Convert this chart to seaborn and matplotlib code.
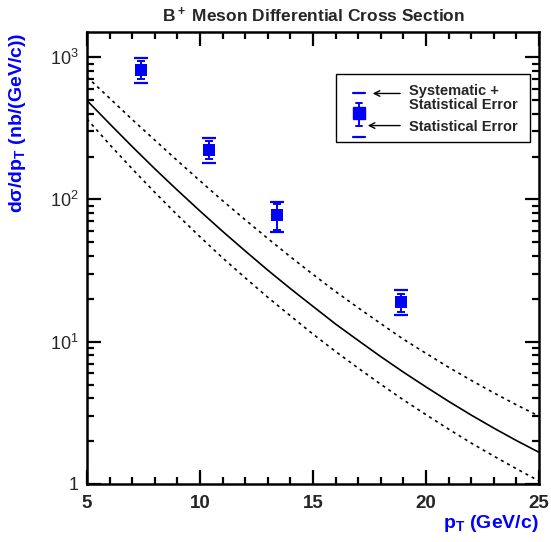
import numpy as np
import pandas as pd
import matplotlib
matplotlib.use("Agg")
import matplotlib.pyplot as plt
from matplotlib.patches import Rectangle
import seaborn as sns

# ---------------- data ----------------
pt_points = [7.4, 10.4, 13.4, 18.9]
xsec = [817, 223, 77.6, 18.9]
stat_hi = [934, 258, 92.7, 21.8]
stat_lo = [699, 191, 61.3, 16.2]
syst_hi = [987, 268, 95.7, 22.9]
syst_lo = [659, 179, 58.7, 15.3]

pt_curve = [5, 6, 7, 8, 9, 10, 11, 12, 13, 14, 15, 16, 17, 18, 19, 20, 21, 22, 23, 24, 25]
theory_central = [495, 340, 235, 164, 116, 82.8, 59.6, 43.4, 31.8, 23.6, 17.7,
                  13.3, 10.2, 7.85, 6.11, 4.81, 3.81, 3.05, 2.47, 2.02, 1.67]
theory_upper = [724, 514, 364, 261, 187, 135, 97.9, 71.9, 53.1, 39.5, 29.7,
                22.5, 17.3, 13.4, 10.4, 8.28, 6.61, 5.35, 4.37, 3.60, 3.0]
theory_lower = [367, 243, 164, 112, 77.6, 54.6, 38.8, 28.1, 20.5, 15.2, 11.3,
                8.53, 6.52, 5.02, 3.90, 3.07, 2.43, 1.94, 1.57, 1.28, 1.05]

xticks = [5, 10, 15, 20, 25]
xtick_labels = ["5", "10", "15", "20", "25"]
yticks = [1, 10, 100, 1000]
ytick_labels = ["1", r"$\mathregular{10^1}$", r"$\mathregular{10^2}$", r"$\mathregular{10^3}$"]

title = r"B$\mathregular{^+}$ Meson Differential Cross Section"
xlabel = r"p$\mathregular{_T}$ (GeV/c)"
ylabel = r"d$\mathregular{\sigma}$/dp$\mathregular{_T}$ (nb/(GeV/c))"
legend_syst = "Systematic +\nStatistical Error"
legend_stat = "Statistical Error"

# ---------------- style ----------------
sns.set_style("ticks")
plt.rcParams["font.family"] = ["Liberation Sans", "DejaVu Sans"]
plt.rcParams["mathtext.fontset"] = "custom"
plt.rcParams["mathtext.rm"] = "Liberation Sans"
plt.rcParams["mathtext.bf"] = "Liberation Sans:bold"

BLUE = "#0000ff"

fig = plt.figure(figsize=(5.51, 5.42), dpi=100)
ax = fig.add_axes([87 / 551, 1 - 484 / 542, 452 / 551, 452 / 542])

curves = pd.DataFrame({"pt": pt_curve, "central": theory_central,
                       "upper": theory_upper, "lower": theory_lower})
sns.lineplot(data=curves, x="pt", y="central", ax=ax, color="black", lw=1.2)
sns.lineplot(data=curves, x="pt", y="upper", ax=ax, color="black", lw=1.2,
             linestyle=(0, (1.8, 2.4)))
sns.lineplot(data=curves, x="pt", y="lower", ax=ax, color="black", lw=1.2,
             linestyle=(0, (1.8, 2.4)))

pts = pd.DataFrame({"pt": pt_points, "xsec": xsec})
yerr = np.array([np.array(xsec) - np.array(stat_lo), np.array(stat_hi) - np.array(xsec)])
ax.errorbar(pt_points, xsec, yerr=yerr, fmt="none", ecolor=BLUE, elinewidth=1.4,
            capsize=2.6, capthick=1.4, zorder=3)
sns.scatterplot(data=pts, x="pt", y="xsec", ax=ax, marker="s", s=72, color=BLUE,
                edgecolor=BLUE, linewidth=0, zorder=4)
for lo_hi in (syst_lo, syst_hi):
    ax.plot(pt_points, lo_hi, linestyle="none", marker="_", markersize=10,
            markeredgewidth=1.6, color=BLUE, zorder=3)

ax.set_yscale("log")
ax.set_xlim(5, 25)
ax.set_ylim(1, 1500)
ax.set_xticks(xticks)
ax.set_xticklabels(xtick_labels, fontsize=13.5, fontweight="bold")
ax.set_xticks(np.arange(5, 26, 1), minor=True)
ax.set_yticks(yticks)
ax.set_yticklabels(ytick_labels, fontsize=13)
ax.set_yticks([m * 10 ** e for e in range(0, 4) for m in range(2, 10) if m * 10 ** e < 1500],
              minor=True)
ax.yaxis.set_minor_formatter(plt.NullFormatter())
ax.tick_params(which="both", direction="in", top=True, right=True, width=1.6, color="black")
ax.tick_params(which="major", length=10, pad=6)
ax.tick_params(which="minor", length=5)
ax.tick_params(axis="x", which="major", pad=8)
for s in ax.spines.values():
    s.set_linewidth(1.8)
    s.set_color("black")
ax.set_xlabel("")
ax.set_ylabel("")

fig.text(313 / 551, 1 - 15 / 542, title, ha="center", va="center", fontsize=12.5,
         fontweight="bold")
fig.text(539 / 551, 1 - 524 / 542, xlabel, ha="right", va="center", fontsize=14,
         fontweight="bold", color=BLUE)
fig.text(18 / 551, 1 - 33 / 542, ylabel, ha="center", va="top", rotation=90,
         fontsize=14, fontweight="bold", color=BLUE)

# ---------------- legend ----------------
tr = ax.transAxes
ax.add_patch(Rectangle((0.551, 0.757), 0.429, 0.150, transform=tr, fill=False,
                       edgecolor="black", lw=1.0, zorder=5))
ax.plot([0.602, 0.602], [0.793, 0.844], transform=tr, color=BLUE, lw=1.4, zorder=6)
for yy in (0.793, 0.844):
    ax.plot([0.595, 0.609], [yy, yy], transform=tr, color=BLUE, lw=1.4, zorder=6)
for yy in (0.768, 0.864):
    ax.plot([0.589, 0.615], [yy, yy], transform=tr, color=BLUE, lw=1.6, zorder=6)
ax.plot([0.602], [0.820], transform=tr, marker="s", markersize=8, color=BLUE,
        linestyle="none", zorder=7)
ax.annotate("", xy=(0.626, 0.864), xytext=(0.699, 0.864), xycoords=tr, textcoords=tr,
            arrowprops=dict(arrowstyle="->", color="black", lw=1.0, mutation_scale=10))
ax.annotate("", xy=(0.615, 0.793), xytext=(0.699, 0.793), xycoords=tr, textcoords=tr,
            arrowprops=dict(arrowstyle="->", color="black", lw=1.0, mutation_scale=10))
ax.text(0.713, 0.855, legend_syst, transform=tr, ha="left", va="center", fontsize=10.5,
        fontweight="bold", linespacing=1.0, zorder=7)
ax.text(0.713, 0.790, legend_stat, transform=tr, ha="left", va="center", fontsize=10.5,
        fontweight="bold", zorder=7)

fig.savefig("out.png", dpi=100)
